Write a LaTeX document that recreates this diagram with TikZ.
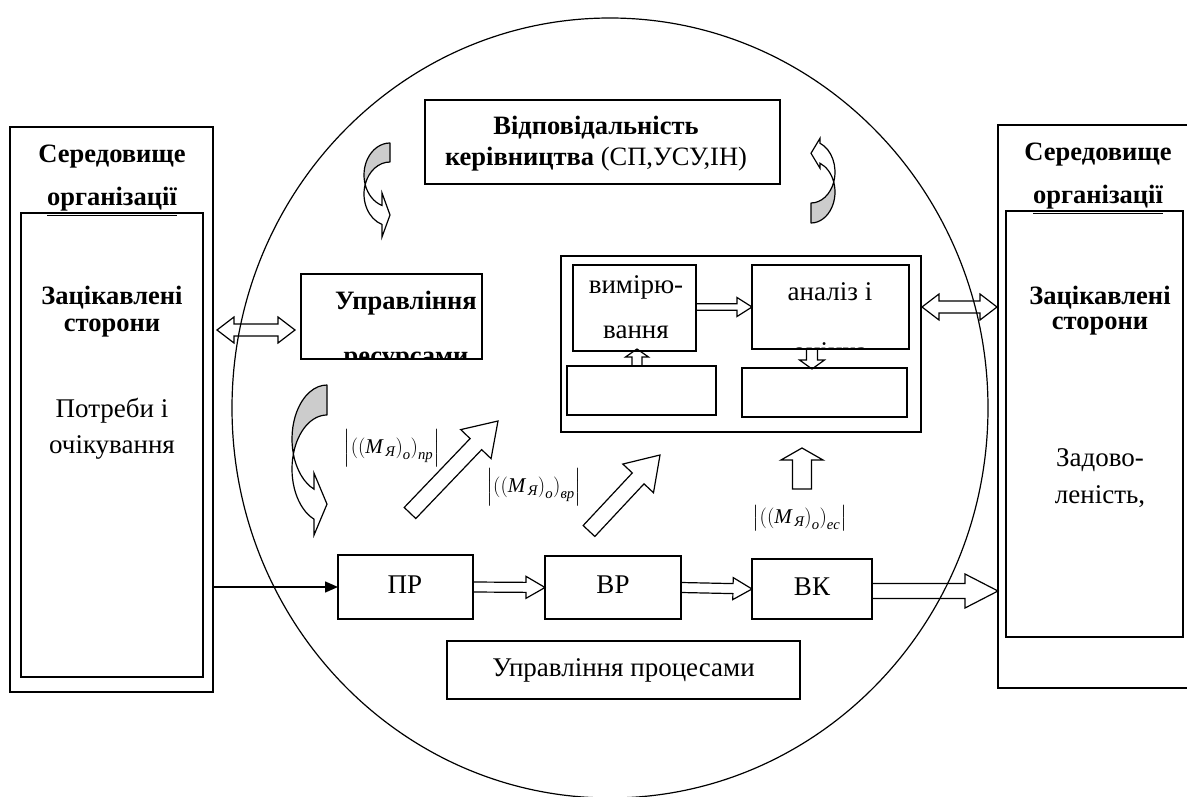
\documentclass[tikz,border=0pt]{standalone}
\usepackage{fontspec}
\setmainfont{Liberation Serif}
\usepackage{amsmath}
\usetikzlibrary{calc,arrows.meta,shapes.geometric}

\tikzset{
  box/.style={draw, line width=1.6pt, rectangle, inner sep=0pt, outer sep=0pt},
  blk/.style={draw, line width=1.2pt, line join=miter},
  bt/.style={font=\fontsize{26.5}{30}\selectfont\bfseries, align=center, inner sep=0pt},
  rt/.style={font=\fontsize{27}{31}\selectfont, align=center, inner sep=0pt},
  ft/.style={font=\fontsize{21}{24}\selectfont, inner sep=0pt},
  backpart/.style={draw, line width=1.2pt, fill=gray!40, line join=round},
  frontpart/.style={draw, line width=1.2pt, fill=white, line join=miter},
}

\newcommand{\rectnode}[5]{%
  \node[box, minimum width={(#4)-(#2)}, minimum height={(#5)-(#3)}] (#1)
    at ({((#2)+(#4))/2},{((#3)+(#5))/2}) {};}

\newcommand{\blockarrow}[5]{% from, to, shaft half, head half, head length
  \coordinate (ba) at (#1); \coordinate (bb) at (#2);
  \coordinate (bh) at ($(bb)!#5pt!(ba)$);
  \draw[blk] ($(ba)!#3pt!90:(bb)$) -- ($(bh)!#3pt!90:(bb)$) -- ($(bh)!#4pt!90:(bb)$)
    -- (bb) -- ($(bh)!#4pt!-90:(bb)$) -- ($(bh)!#3pt!-90:(bb)$)
    -- ($(ba)!#3pt!-90:(bb)$) -- cycle;}

\newcommand{\dblarrow}[5]{%
  \coordinate (ba) at (#1); \coordinate (bb) at (#2);
  \coordinate (ha) at ($(ba)!#5pt!(bb)$);
  \coordinate (hb) at ($(bb)!#5pt!(ba)$);
  \draw[blk] (ba) -- ($(ha)!#4pt!90:(bb)$) -- ($(ha)!#3pt!90:(bb)$)
    -- ($(hb)!#3pt!90:(bb)$) -- ($(hb)!#4pt!90:(bb)$) -- (bb)
    -- ($(hb)!#4pt!-90:(bb)$) -- ($(hb)!#3pt!-90:(bb)$)
    -- ($(ha)!#3pt!-90:(bb)$) -- ($(ha)!#4pt!-90:(bb)$) -- cycle;}

% curved block arrow: #1 placement, #2 W, #3 ry, #4 thickness, #5 head base offset, #6 head half height
\newcommand{\curvarrow}[6]{%
  \begin{scope}[#1]
  \pgfmathsetmacro{\caa}{asin(#4/(2*#3))}
  \pgfmathsetmacro{\cch}{180-acos(#5/#2)}
  \pgfmathsetmacro{\cyh}{#3+#3*sin(\cch)}
  \pgfmathsetmacro{\cym}{\cyh+#4/2}
  \pgfmathsetmacro{\cxc}{-#2*cos(\caa)}
  \draw[backpart] (0,0) arc[start angle=-90, end angle={-180-\caa}, x radius=#2, y radius=#3]
     arc[start angle={-180+\caa}, end angle=-90, x radius=#2, y radius=#3] -- cycle;
  \draw[frontpart] (\cxc,{#3+#4/2}) arc[start angle={180-\caa}, end angle=\cch, x radius=#2, y radius=#3]
     -- (-#5,{\cym-#6}) -- (0,\cym) -- (-#5,{\cym+#6}) -- (-#5,{\cyh+#4})
     arc[start angle=\cch, end angle={180+\caa}, x radius=#2, y radius=#3] -- cycle;
  \end{scope}}

\newcommand{\mform}[1]{$\left|\left(\left(\text{\itshape M}_{\,\text{\itshape Я}}\right)_{\text{\itshape o}}\right)_{\text{\itshape #1}}\right|$}

\begin{document}
\begin{tikzpicture}[x=1pt,y=-1pt]
\useasboundingbox (0,0) rectangle (1187,797);
\clip (0,0) rectangle (1187,797);

% organisation ellipse
\node[draw, ellipse, line width=1.2pt, minimum width=756, minimum height=780, inner sep=0pt] (org) at (610,408) {};

% left environment
\rectnode{envL}{10}{127}{213}{692}
\rectnode{stkL}{21}{213}{203}{677}
\node[bt] (envLt1) at (112,157) {Середовище};
\node[bt] (envLt2) at (112,202) {\underline{організації}};
\node[bt] (stkLt1) at (112,298) {Зацікавлені};
\node[bt] (stkLt2) at (112,328) {сторони};
\node[rt] (stkLt3) at (112,411) {Потреби і};
\node[rt] (stkLt4) at (112,447) {очікування};

% right environment
\rectnode{envR}{998}{125}{1215}{688}
\rectnode{stkR}{1006}{211}{1183}{637}
\node[bt] (envRt1) at (1098,155) {Середовище};
\node[bt] (envRt2) at (1098,200) {\underline{організації}};
\node[bt] (stkRt1) at (1100,298) {Зацікавлені};
\node[bt] (stkRt2) at (1100,326) {сторони};
\node[rt] (stkRt3) at (1100,460) {Задово-};
\node[rt] (stkRt4) at (1100,497) {леність,};

% management responsibility
\rectnode{resp}{425}{100}{780}{184}
\node[font=\fontsize{26.5}{31}\selectfont, align=center, inner sep=0pt] (respt) at (596,144)
  {\textbf{Відповідальність}\\ \textbf{керівництва} (СП,УСУ,ІН)};

% resource management (text clipped by its box)
\rectnode{res}{301}{274}{482}{359}
\begin{scope}
  \clip (res.south west) rectangle (res.north east);
  \node[bt] (rest1) at (406,303) {Управління};
  \node[bt] (rest2) at (406,361) {ресурсами};
\end{scope}

% measurement block
\rectnode{meas}{561}{256}{921}{432}
\rectnode{vym}{573}{265}{696}{351}
\node[rt] (vymt1) at (636,287) {вимірю-};
\node[rt] (vymt2) at (636,332) {вання};
\rectnode{anal}{752}{265}{909}{349}
\begin{scope}
  \clip (anal.south west) rectangle (anal.north east);
  \node[rt] (analt1) at (830,292) {аналіз і};
  \node[rt] (analt2) at (830,354) {оцінка};
\end{scope}
\rectnode{blbox}{567}{366}{716}{415}
\rectnode{brbox}{742}{368}{907}{417}

\blockarrow{vym.east |- 0,307}{anal.west |- 0,307}{3.3}{9.5}{15}
\coordinate (upA) at (637,366);
\coordinate (upB) at (637,349);
\blockarrow{upA}{upB}{5}{11.5}{8}
\coordinate (dnA) at (812,349);
\coordinate (dnB) at (812,369);
\blockarrow{dnA}{dnB}{5.5}{12.5}{9}

% side double arrows
\coordinate (lA) at (217,330);
\coordinate (lB) at (295,330);
\dblarrow{lA}{lB}{6}{13}{17}
\coordinate (rA) at (922,307);
\coordinate (rB) at (997,307);
\dblarrow{rA}{rB}{6}{13}{17}

% curved arrows
\curvarrow{shift={(390,143)}}{26}{32}{19}{8}{22}
\curvarrow{shift={(811,223)},rotate=180}{24}{31}{20}{9}{15}
\curvarrow{shift={(327,385)}}{35}{54}{30}{13}{31}

% formulas and big arrows
\node[ft] (f1) at (392,448) {\mform{пр}};
\node[ft] (f2) at (534,487) {\mform{вр}};
\node[ft] (f3) at (800,518) {\mform{ес}};
\coordinate (d1a) at (410,513);
\coordinate (d1b) at (498,421);
\blockarrow{d1a}{d1b}{8}{21}{32}
\coordinate (d2a) at (589,531);
\coordinate (d2b) at (660,455);
\blockarrow{d2a}{d2b}{8}{21}{32}
\coordinate (upBa) at (802,489);
\coordinate (upBb) at (802,448);
\blockarrow{upBa}{upBb}{9.5}{21}{12}

% process chain
\rectnode{pr}{338}{555}{473}{619}
\node[rt] (prt) at (405,585) {ПР};
\rectnode{vr}{545}{556}{681}{619}
\node[rt] (vrt) at (613,585) {ВР};
\rectnode{vk}{752}{559}{872}{619}
\node[rt] (vkt) at (812,587) {ВК};
\draw[line width=1.4pt, -{Triangle[length=13pt,width=11pt]}] (envL.east |- pr.west) -- (pr.west);
\blockarrow{pr.east}{vr.west}{5}{11}{19}
\blockarrow{vr.east}{vk.west}{5}{11}{19}
\coordinate (outB) at (998,591);
\blockarrow{vk.east |- outB}{outB}{7.5}{17}{33}

\rectnode{proc}{447}{641}{800}{699}
\node[rt] (proct) at (proc.center) {Управління процесами};
\end{tikzpicture}
\end{document}
